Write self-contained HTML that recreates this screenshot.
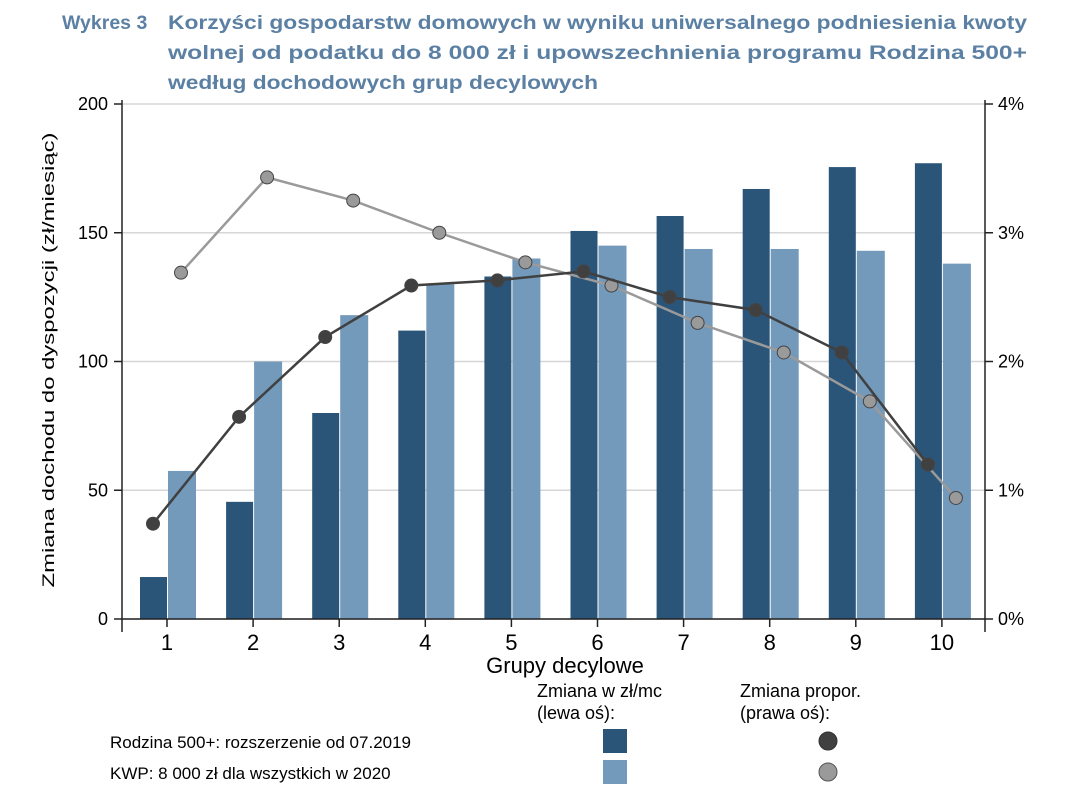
<!DOCTYPE html>
<html><head><meta charset="utf-8"><style>
body{margin:0;background:#fff;width:1072px;height:800px;overflow:hidden;font-family:"Liberation Sans",sans-serif}
</style></head><body>
<svg width="1072" height="800" id="svg" font-family="Liberation Sans, sans-serif">
<g font-weight="bold" font-size="19.5" fill="#5b80a3">
<text x="62" y="29">Wykres 3</text>
<text x="168" y="29" textLength="859" lengthAdjust="spacingAndGlyphs">Korzyści gospodarstw domowych w wyniku uniwersalnego podniesienia kwoty</text>
<text x="168" y="59" textLength="859" lengthAdjust="spacingAndGlyphs">wolnej od podatku do 8 000 zł i upowszechnienia programu Rodzina 500+</text>
<text x="168" y="89" textLength="430" lengthAdjust="spacingAndGlyphs">według dochodowych grup decylowych</text>
</g>
<g id="grid"></g><g id="bars"></g><g id="axes"></g><g id="lines"></g>
<text transform="translate(54,360) rotate(-90)" text-anchor="middle" font-size="17" textLength="455" lengthAdjust="spacingAndGlyphs">Zmiana dochodu do dyspozycji (zł/miesiąc)</text>
<text x="565" y="673" text-anchor="middle" font-size="22">Grupy decylowe</text>
<g font-size="18">
<text x="537" y="697">Zmiana w zł/mc</text><text x="537" y="719">(lewa oś):</text>
<text x="740" y="697">Zmiana propor.</text><text x="740" y="719">(prawa oś):</text>
<text x="110" y="748" font-size="17">Rodzina 500+: rozszerzenie od 07.2019</text>
<text x="110" y="779" font-size="17">KWP: 8 000 zł dla wszystkich w 2020</text>
<rect x="603" y="729" width="24" height="24" fill="#2a5478"/>
<rect x="603" y="760" width="24" height="24" fill="#7399bb"/>
<circle cx="828" cy="741" r="9" fill="#404040" stroke="#333"/>
<circle cx="828" cy="772" r="9" fill="#9a9a9a" stroke="#555"/>
</g>
</svg>
<script>
const categories=[1,2,3,4,5,6,7,8,9,10];
const rodzinaZl=[16.3,45.5,80,112,133,150.7,156.5,167,175.5,177];
const kwpZl=[57.5,100,118,130,140,145,143.7,143.7,143,138];
const rodzinaPct=[0.74,1.57,2.19,2.59,2.63,2.70,2.50,2.40,2.07,1.20];
const kwpPct=[2.69,3.43,3.25,3.0,2.77,2.59,2.30,2.07,1.69,0.94];
const leftTicks=[0,50,100,150,200];
const rightTicks=["0%","1%","2%","3%","4%"];
const NS="http://www.w3.org/2000/svg";
const X0=122,X1=985,Y0=619,Y1=104;
const xc=i=>167+(i-1)*86.1;
const yl=v=>Y0-(v/200)*(Y0-Y1);
const yr=v=>Y0-(v/4)*(Y0-Y1);
function mk(t,a,p){const e=document.createElementNS(NS,t);for(const k in a)e.setAttribute(k,a[k]);document.getElementById(p).appendChild(e);return e;}
leftTicks.forEach((v,i)=>{
 const g=mk('line',{x1:X0,x2:X1,y1:yl(v),y2:yl(v),stroke:'#d6d6d6','stroke-width':1.5},'grid');
 
 
 mk('line',{x1:X0-8,x2:X0,y1:yl(v),y2:yl(v),stroke:'#222','stroke-width':1.5},'axes');
 const t=mk('text',{x:X0-14,y:yl(v)+6,'text-anchor':'end','font-size':18},'axes');t.textContent=v;
 
 
 mk('line',{x1:X1,x2:X1+8,y1:yl(v),y2:yl(v),stroke:'#222','stroke-width':1.5},'axes');
 const r=mk('text',{x:X1+13,y:yl(v)+6,'font-size':18},'axes');r.textContent=rightTicks[i];
 
 
});
categories.forEach((c,i)=>{
 const x=xc(c);
 const b1=mk('rect',{x:x-27,y:yl(rodzinaZl[i]),width:27,height:Y0-yl(rodzinaZl[i]),fill:'#2a5478'},'bars');
 
 
 const b2=mk('rect',{x:x+1,y:yl(kwpZl[i]),width:28,height:Y0-yl(kwpZl[i]),fill:'#7399bb'},'bars');
 
 
 mk('line',{x1:x,x2:x,y1:Y0,y2:Y0+8,stroke:'#222','stroke-width':1.5},'axes');
 const t=mk('text',{x:x,y:Y0+31,'text-anchor':'middle','font-size':22},'axes');t.textContent=c;
 
 
});
mk('line',{x1:X0,x2:X1,y1:Y0,y2:Y0,stroke:'#222','stroke-width':1.5},'axes');
mk('line',{x1:X0,x2:X0,y1:Y1-4,y2:Y0+13,stroke:'#222','stroke-width':1.5},'axes');
mk('line',{x1:X1,x2:X1,y1:Y1-4,y2:Y0+13,stroke:'#222','stroke-width':1.5},'axes');
function series(vals,off,col,fill,name){
 const pts=vals.map((v,i)=>[xc(categories[i])+off,yr(v)]);
 const p=mk('polyline',{points:pts.map(p=>p.join(',')).join(' '),fill:'none',stroke:col,'stroke-width':2.5},'lines');
 
 
 pts.forEach(q=>{const c=mk('circle',{cx:q[0],cy:q[1],r:6.5,fill:fill,stroke:'#444','stroke-width':1},'lines');
  
  });
}
series(kwpPct,14,'#9a9a9a','#9a9a9a','kwp');
series(rodzinaPct,-14,'#404040','#404040','rodzina');
</script>
</body></html>
